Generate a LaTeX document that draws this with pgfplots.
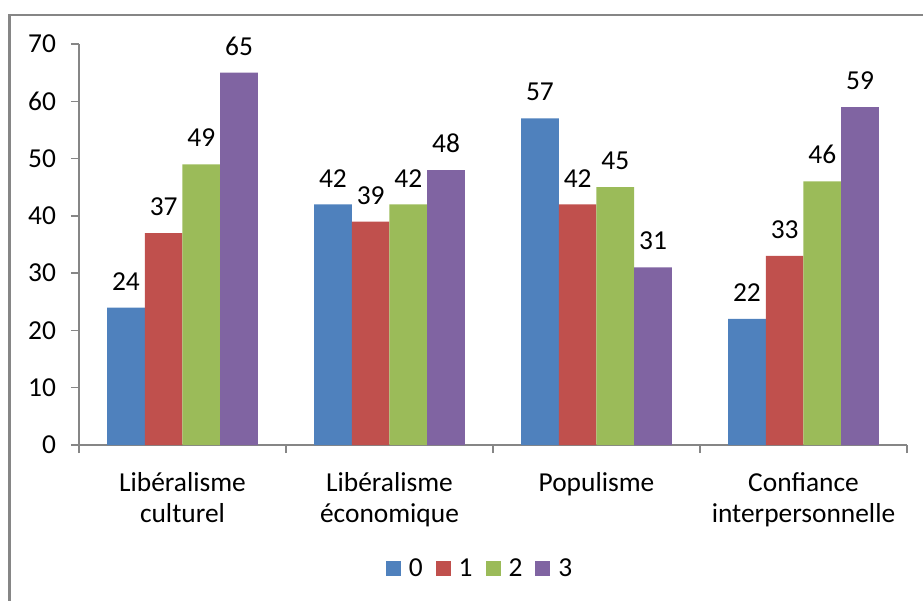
\documentclass[border=0pt]{standalone}
\usepackage{fontspec}
\setmainfont{Carlito}
\usepackage{pgfplots}
\pgfplotsset{compat=1.18}
\definecolor{c0}{HTML}{4F81BD}
\definecolor{c1}{HTML}{C0504D}
\definecolor{c2}{HTML}{9BBB59}
\definecolor{c3}{HTML}{8064A2}
\definecolor{axgray}{HTML}{868686}
\newcommand{\cf}{\fontsize{13.7}{15.8}\selectfont}
\pgfplotsset{sq/.style={legend image code/.code={\fill[##1] (0pt,-3.75pt) rectangle (7.5pt,3.75pt);}}}
\begin{document}
\begin{tikzpicture}[font=\cf]
\useasboundingbox (0,0) rectangle (461.5pt,300.5pt);
\draw[axgray, line width=1.1pt] (4.75pt,-2pt) -- (4.75pt,293pt) -- (465pt,293pt);
\begin{axis}[
  at={(39.5pt,78pt)}, anchor=south west,
  scale only axis, width=414pt, height=200.5pt,
  font=\cf,
  ymin=0, ymax=70, xmin=-0.5, xmax=3.5,
  ytick={0,10,...,70},
  xtick={-0.5,0.5,1.5,2.5,3.5}, xticklabels={},
  extra x ticks={0,1,2,3},
  extra x tick labels={Libéralisme\\culturel, Libéralisme\\économique, Populisme, Confiance\\interpersonnelle},
  extra x tick style={major tick length=0pt},
  xticklabel style={align=center, anchor=north, yshift=-10pt, font=\cf},
  axis x line*=bottom, axis y line*=left,
  axis line style={axgray, line width=0.75pt},
  tick style={axgray, line width=0.75pt},
  tick align=outside, major tick length=4pt,
  /pgf/number format/assume math mode=true,
  yticklabel style={xshift=-4pt, font=\cf},
  ybar=0pt, bar width=18.85pt,
  nodes near coords,
  every node near coord/.append style={anchor=south, inner sep=0pt, yshift=8.5pt, text=black, font=\cf},
  legend columns=4,
  legend style={at={(0.488,-0.309)}, anchor=center, draw=none, fill=none, font=\cf,
    nodes={inner xsep=4pt},
    /tikz/every even column/.append style={column sep=2.5pt}},
]
\addplot[fill=c0, draw=none, sq] coordinates {(0,24) (1,42) (2,57) (3,22)};
\addplot[fill=c1, draw=none, sq] coordinates {(0,37) (1,39) (2,42) (3,33)};
\addplot[fill=c2, draw=none, sq] coordinates {(0,49) (1,42) (2,45) (3,46)};
\addplot[fill=c3, draw=none, sq] coordinates {(0,65) (1,48) (2,31) (3,59)};
\legend{0,1,2,3}
\end{axis}
\end{tikzpicture}
\end{document}
